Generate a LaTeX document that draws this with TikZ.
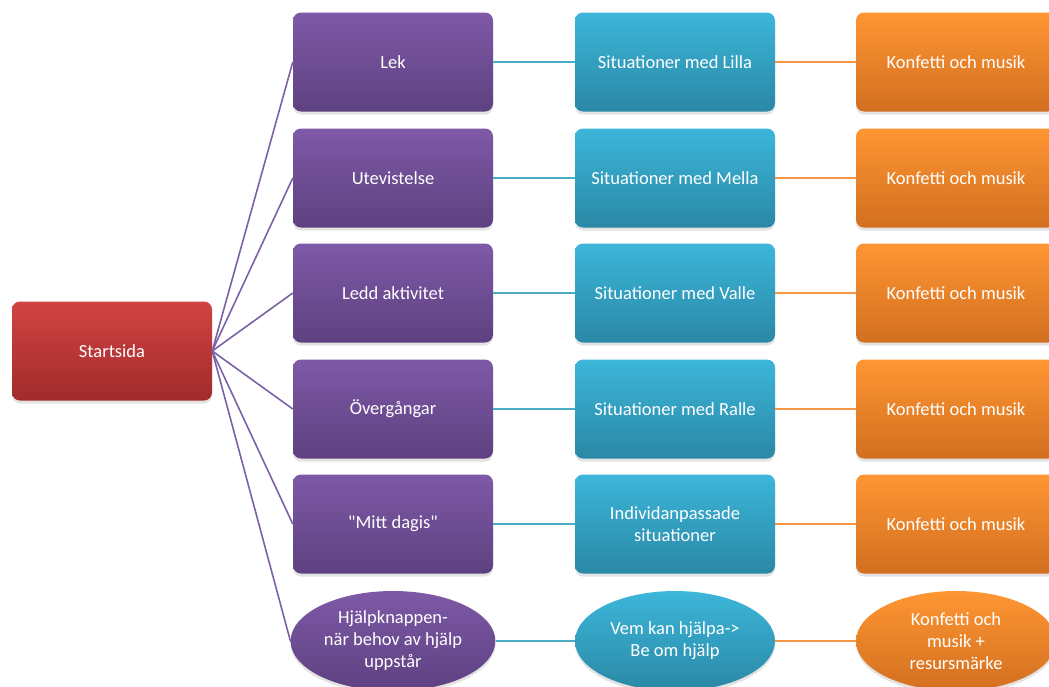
\documentclass[tikz,border=0pt]{standalone}
\usepackage{fontspec}
\setmainfont{Carlito}[Ligatures=TeXOff]
\usetikzlibrary{shapes.geometric,shadows,positioning}
\definecolor{redtop}{HTML}{D24343}
\definecolor{redbot}{HTML}{A12B2B}
\definecolor{purptop}{HTML}{7E59A7}
\definecolor{purpbot}{HTML}{5E4180}
\definecolor{bluetop}{HTML}{3CB6DA}
\definecolor{bluebot}{HTML}{2A88A5}
\definecolor{orgtop}{HTML}{FF9633}
\definecolor{orgbot}{HTML}{D26F1F}
\definecolor{purpline}{HTML}{7D61A6}
\definecolor{blueline}{HTML}{4BACC6}
\definecolor{orgline}{HTML}{F79646}

\begin{document}
\begin{tikzpicture}[x=1pt,y=-1pt]
  %--------------------------------------------
  % Styles
  %--------------------------------------------
  \tikzset{
    box/.style={rectangle, rounded corners=8pt, minimum width=200pt,
      minimum height=99pt, text=white, align=center,
      font=\fontsize{18.5}{22}\selectfont,
      drop shadow={opacity=0.22, shadow xshift=0pt, shadow yshift=-3pt}},
    oval/.style={box, ellipse, minimum height=100pt},
    startbox/.style={top color=redtop, bottom color=redbot},
    purpfill/.style={top color=purptop, bottom color=purpbot},
    bluefill/.style={top color=bluetop, bottom color=bluebot},
    orgfill/.style={top color=orgtop, bottom color=orgbot},
    purplink/.style={line width=1.6pt, purpline},
    bluelink/.style={line width=1.6pt, blueline},
    orglink/.style={line width=1.6pt, orgline}
  }

  % page frame
  \useasboundingbox (0,0) rectangle (1049,686);
  \clip (0,0) rectangle (1049,686);

  %--------------------------------------------
  % Start node
  %--------------------------------------------
  \node[box, startbox] (start) at (112,351) {Startsida};

  %--------------------------------------------
  % Rows: area -> situations -> reward
  %--------------------------------------------
  \foreach \i/\y/\area/\sit in {1/62/Lek/Situationer med Lilla,
      2/178/Utevistelse/Situationer med Mella,
      3/293/Ledd aktivitet/Situationer med Valle,
      4/409/Övergångar/Situationer med Ralle,
      5/524/"Mitt dagis"/Individanpassade\\situationer}{
    \node[box, purpfill] (area\i) at (393,\y) {\area};
    \node[box, bluefill] (sit\i) at (675,\y) {\sit};
    \node[box, orgfill] (prize\i) at (956,\y) {Konfetti och musik};
  }

  % help row (ellipses)
  \node[oval, purpfill] (area6) at (393,641) {Hjälpknappen-\\när behov av hjälp\\uppstår};
  \node[oval, bluefill] (sit6) at (675,641) {Vem kan hjälpa->\\Be om hjälp};
  \node[oval, orgfill] (prize6) at (956,641) {Konfetti och\\musik +\\resursmärke};

  %--------------------------------------------
  % Connectors
  %--------------------------------------------
  \foreach \i in {1,...,6}{
    \draw[purplink] (start.east) -- (area\i.west);
    \draw[bluelink] (area\i.east) -- (sit\i.west);
    \draw[orglink] (sit\i.east) -- (prize\i.west);
  }
\end{tikzpicture}
\end{document}
